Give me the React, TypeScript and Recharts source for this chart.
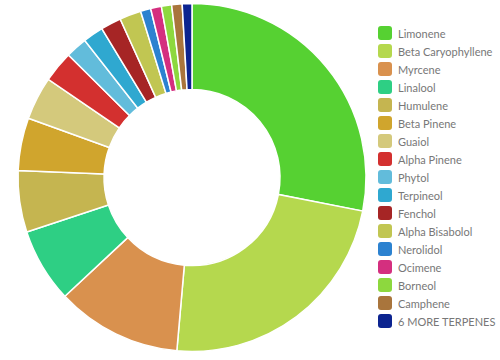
import { Cell, Legend, Pie, PieChart } from 'recharts'

const terpenes = [
  'Limonene',
  'Beta Caryophyllene',
  'Myrcene',
  'Linalool',
  'Humulene',
  'Beta Pinene',
  'Guaiol',
  'Alpha Pinene',
  'Phytol',
  'Terpineol',
  'Fenchol',
  'Alpha Bisabolol',
  'Nerolidol',
  'Ocimene',
  'Borneol',
  'Camphene',
  '6 MORE TERPENES',
]

const shares = [28.1, 23.3, 11.65, 6.9, 5.7, 4.9, 4.0, 2.9, 2.0, 1.9, 1.9, 2.0, 0.95, 1.0, 0.95, 0.97, 0.9]

const colors = [
  '#56d132', '#b5d84e', '#d9914e', '#2ecf84', '#c5b550', '#d0a52d', '#d4c97c', '#d3302f', '#62bcdb',
  '#2fa8d0', '#a62525', '#c1c652', '#2c82d0', '#d42f7f', '#8dd83e', '#a9753c', '#0c2490',
]

const data = terpenes.map((name, i) => ({ name, value: shares[i], color: colors[i] }))

function LegendList() {
  return (
    <ul style={{ listStyle: 'none', margin: 0, padding: 0 }}>
      {data.map((d) => (
        <li key={d.name} style={{ display: 'flex', alignItems: 'center', height: 18, whiteSpace: 'nowrap' }}>
          <span
            style={{
              width: 14,
              height: 14,
              borderRadius: 3,
              background: d.color,
              marginRight: 6,
              display: 'inline-block',
              flexShrink: 0,
            }}
          />
          <span style={{ fontFamily: 'Lato, sans-serif', fontSize: 11, color: '#777' }}>{d.name}</span>
        </li>
      ))}
    </ul>
  )
}

export default function App() {
  return (
    <div style={{ position: 'absolute', left: 0, top: 0 }}>
      <PieChart height={360} margin={{ top: 0, right: 0, bottom: 0, left: 0 }} width={500}>
        <Pie
          cx={192}
          cy={177.5}
          data={data}
          dataKey="value"
          endAngle={-270}
          innerRadius={88}
          isAnimationActive={false}
          nameKey="name"
          outerRadius={174}
          startAngle={90}
          stroke="#fff"
          strokeWidth={1.5}
        >
          {data.map((d) => (
            <Cell fill={d.color} key={d.name} />
          ))}
        </Pie>
        <Legend
          align="right"
          content={<LegendList />}
          layout="vertical"
          verticalAlign="middle"
          wrapperStyle={{ left: 378, top: 24, width: 122 }}
        />
      </PieChart>
    </div>
  )
}
